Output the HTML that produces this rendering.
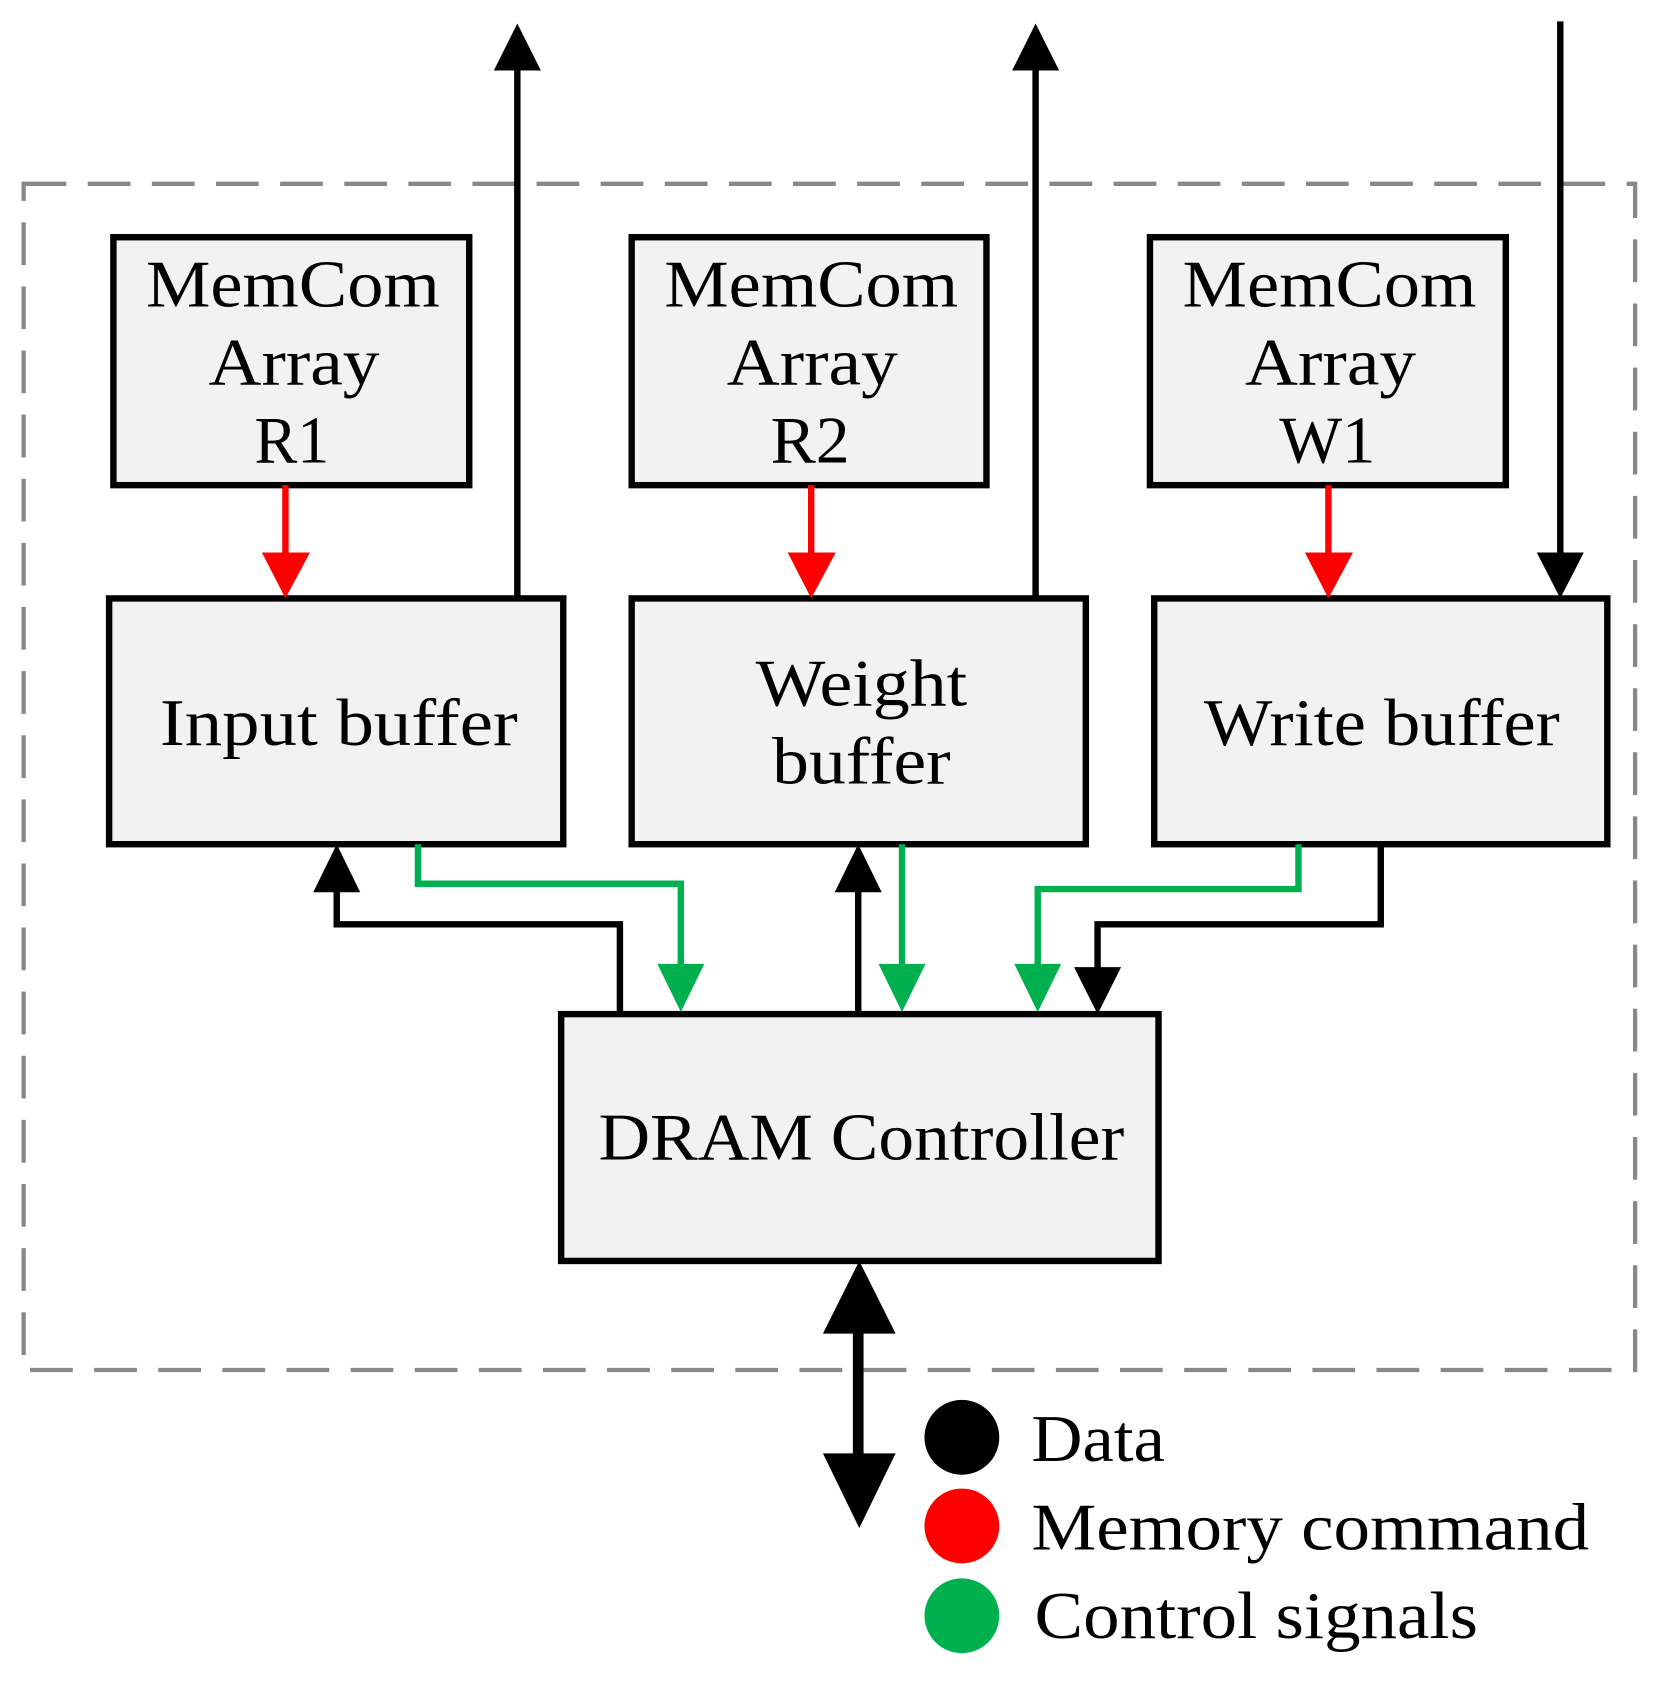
<!DOCTYPE html>
<html><head><meta charset="utf-8"><style>html,body{margin:0;padding:0;background:#fff}svg{display:block}</style></head>
<body>
<svg width="1663" height="1682" viewBox="0 0 1556 1574" xmlns="http://www.w3.org/2000/svg" font-family="'Liberation Serif', serif">
<rect x="22" y="172" width="1508" height="1110" fill="none" stroke="#888" stroke-width="4" stroke-dasharray="40,20"/>
<g fill="#f2f2f2" stroke="#000" stroke-width="6">
<rect x="106" y="222" width="333" height="232"/>
<rect x="591" y="222" width="332" height="232"/>
<rect x="1076" y="222" width="333" height="232"/>
<rect x="102" y="560" width="425" height="230"/>
<rect x="591" y="560" width="425" height="230"/>
<rect x="1080" y="560" width="424" height="230"/>
<rect x="525" y="949" width="559" height="231"/>
</g>
<g font-size="62" text-anchor="middle" fill="#000" lengthAdjust="spacingAndGlyphs">
<text x="274" y="287" textLength="275" lengthAdjust="spacingAndGlyphs">MemCom</text><text x="275" y="360" textLength="160" lengthAdjust="spacingAndGlyphs">Array</text><text x="273" y="433" textLength="70" lengthAdjust="spacingAndGlyphs">R1</text>
<text x="759" y="287" textLength="275" lengthAdjust="spacingAndGlyphs">MemCom</text><text x="760" y="360" textLength="160" lengthAdjust="spacingAndGlyphs">Array</text><text x="758" y="433" textLength="74" lengthAdjust="spacingAndGlyphs">R2</text>
<text x="1244" y="287" textLength="275" lengthAdjust="spacingAndGlyphs">MemCom</text><text x="1245" y="360" textLength="160" lengthAdjust="spacingAndGlyphs">Array</text><text x="1242" y="433" textLength="90" lengthAdjust="spacingAndGlyphs">W1</text>
<text x="317" y="697" textLength="335" lengthAdjust="spacingAndGlyphs">Input buffer</text>
<text x="806" y="660" textLength="198" lengthAdjust="spacingAndGlyphs">Weight</text><text x="806" y="733" textLength="167" lengthAdjust="spacingAndGlyphs">buffer</text>
<text x="1293" y="697" textLength="333" lengthAdjust="spacingAndGlyphs">Write buffer</text>
<text x="806" y="1085" textLength="492" lengthAdjust="spacingAndGlyphs">DRAM Controller</text>
</g>
<g fill="none" stroke-width="6">
<path d="M267 454V520M759 454V520M1243 454V520" stroke="#f00"/>
<path d="M484 560V60M969 560V60M1460 20V520M580 949V865H315V830M803 949V825M1292 790V865H1027V910" stroke="#000"/>
<path d="M391 790V827H637V905M844 790V905M1215 790V832H971V905" stroke="#00b04f"/>
<path d="M803 1240V1365" stroke="#000" stroke-width="10"/>
</g>
<g fill="#f00"><path d="M245 517H290L267 560Z"/><path d="M737 517H782L759 560Z"/><path d="M1221 517H1266L1243 560Z"/></g>
<g fill="#000">
<path d="M462 66H506L484 22Z"/><path d="M947 66H991L969 22Z"/><path d="M1438 517H1482L1460 560Z"/>
<path d="M293 835H337L315 790Z"/><path d="M781 835H825L803 790Z"/><path d="M1005 905H1049L1027 949Z"/>
<path d="M770 1248H838L804 1180Z"/><path d="M770 1360H838L804 1430Z"/>
</g>
<g fill="#00b04f"><path d="M615 902H659L637 947Z"/><path d="M822 902H866L844 947Z"/><path d="M949 902H993L971 947Z"/></g>
<circle cx="900" cy="1345" r="35" fill="#000"/>
<circle cx="900" cy="1428" r="35" fill="#f00"/>
<circle cx="900" cy="1512" r="35" fill="#00b04f"/>
<g font-size="62" fill="#000">
<text x="965" y="1367" textLength="125" lengthAdjust="spacingAndGlyphs">Data</text>
<text x="965" y="1450" textLength="522" lengthAdjust="spacingAndGlyphs">Memory command</text>
<text x="968" y="1533" textLength="415" lengthAdjust="spacingAndGlyphs">Control signals</text>
</g>
</svg>
</body></html>
